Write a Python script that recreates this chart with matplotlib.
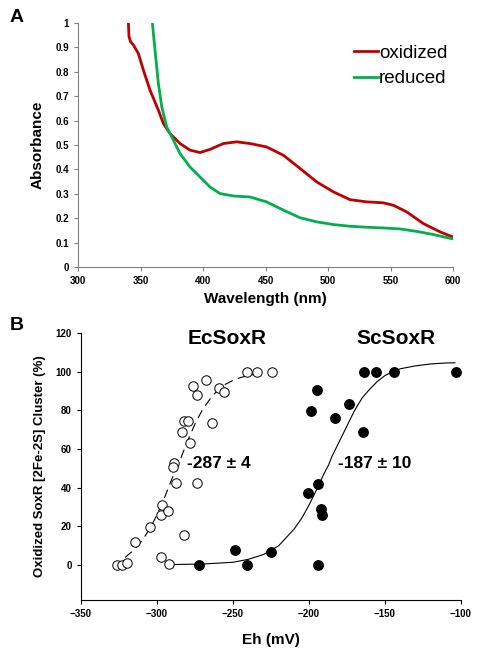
import matplotlib.pyplot as plt

plt.rcParams['font.family'] = ['Liberation Sans', 'DejaVu Sans']

# panel A: absorbance spectra
ox_wl = [340.3, 340.8, 342.1, 344.3, 348.3, 352.3, 357.6, 364.3, 368.3, 373.6, 381.6, 389.6,
         397.6, 405.6, 416.3, 426.9, 437.6, 450.9, 464.3, 477.6, 490.9, 504.3, 517.6, 530.9,
         544.3, 552.3, 562.9, 576.3, 589.6, 600.0]
ox_abs = [1.0, 0.944, 0.923, 0.91, 0.875, 0.807, 0.725, 0.643, 0.588, 0.547, 0.506, 0.479,
          0.469, 0.482, 0.506, 0.513, 0.506, 0.492, 0.458, 0.404, 0.349, 0.308, 0.276, 0.267,
          0.263, 0.253, 0.226, 0.178, 0.144, 0.123]
red_wl = [359.5, 361.6, 364.3, 367.0, 370.9, 376.3, 381.6, 389.6, 397.6, 405.6, 413.6, 424.3,
          437.6, 450.9, 464.3, 477.6, 490.9, 504.3, 517.6, 530.9, 544.3, 557.6, 570.9, 584.3, 600.0]
red_abs = [1.0, 0.889, 0.752, 0.657, 0.575, 0.52, 0.465, 0.41, 0.369, 0.328, 0.301, 0.291,
           0.287, 0.267, 0.233, 0.202, 0.185, 0.174, 0.167, 0.163, 0.16, 0.156, 0.146, 0.133, 0.115]

# panel B: redox titration
ec_eh = [-326.1, -323.3, -319.8, -314.5, -304.6, -297.6, -296.8, -292.6, -297.2, -292.2,
         -282.1, -288.9, -289.3, -287.6, -283.8, -282.5, -279.9, -278.6, -274.0, -276.2,
         -273.5, -267.6, -263.7, -258.9, -255.8, -241.1, -234.1, -224.2]
ec_ox = [0, 0, 1.2, 12, 19.8, 26, 31.3, 28, 4, 0.5, 15.7, 52.7, 51, 42.7, 68.7, 74.3, 74.3,
         63.2, 42.7, 92.6, 88, 95.9, 73.5, 91.7, 89.7, 100, 100, 100]
sc_eh = [-272.4, -249.0, -240.7, -225.3, -200.8, -198.8, -194.9, -194.2, -193.8, -192.2,
         -191.6, -182.6, -173.4, -164.6, -164.0, -155.9, -144.1, -103.5]
sc_ox = [0, 7.9, 0, 6.9, 37.2, 79.7, 90.5, 42.2, 0, 29.1, 26, 76.2, 83.3, 68.7, 100, 100, 100, 100]

# fitted curves
ec_fit_eh = [-321, -315, -310, -305, -300, -295, -290, -287, -285, -280, -275, -270, -265,
             -260, -255, -250, -245, -240, -235, -229]
ec_fit_ox = [4, 8, 12.5, 18.5, 26, 35, 45, 50, 54, 64, 73, 80.5, 86, 90.5, 93.5, 95.5, 97,
             98, 98.8, 99.2]
sc_fit_eh = [-292, -270, -250, -240, -230, -220, -210, -205, -200, -195, -190, -187, -185,
             -180, -175, -170, -165, -160, -155, -150, -145, -140, -130, -120, -110, -104]
sc_fit_ox = [0.3, 0.6, 1.5, 3, 5.5, 10, 18.5, 24, 31, 39, 47.5, 52, 56, 64, 72, 80, 86.5,
             91, 95, 98, 100, 101.5, 103, 104, 104.5, 104.6]

spine_col = '#808080'

fig = plt.figure(figsize=(4.82, 6.58), dpi=100)

# ---- panel A
ax1 = fig.add_axes([78 / 482, 1 - 267 / 658, 375 / 482, 244 / 658])
ax1.plot(ox_wl, ox_abs, color='#c00000', lw=2, label='oxidized')
ax1.plot(red_wl, red_abs, color='#00b050', lw=2, label='reduced')
ax1.set_xlim(300, 600)
ax1.set_ylim(0, 1)
ax1.set_xticks(range(300, 601, 50))
ax1.set_yticks([i / 10 for i in range(11)])
ax1.set_yticklabels(['0'] + [f'{i / 10:.1f}' for i in range(1, 10)] + ['1'])
for s in ['top', 'right']:
    ax1.spines[s].set_visible(False)
for s in ['left', 'bottom']:
    ax1.spines[s].set_color(spine_col)
ax1.tick_params(direction='out', length=3, color=spine_col, labelsize=7)
for lab in ax1.get_xticklabels() + ax1.get_yticklabels():
    lab.set_fontweight('bold')
ax1.set_xlabel('Wavelength (nm)', fontsize=11, fontweight='bold', labelpad=4)
ax1.set_ylabel('Absorbance', fontsize=11, fontweight='bold', labelpad=8)
ax1.legend(loc='upper right', bbox_to_anchor=(1.03, 0.98), frameon=False, fontsize=13.5,
           handlelength=1.3, handletextpad=0.05, labelspacing=0.45)
fig.text(17 / 482, 1 - 17 / 658, 'A', fontsize=14, fontweight='bold', va='center', ha='center')

# ---- panel B
ax2 = fig.add_axes([81 / 482, 1 - 600 / 658, 380 / 482, 267 / 658])
ax2.plot(ec_fit_eh, ec_fit_ox, color='black', lw=0.8, ls=(0, (8, 5)))
ax2.plot(sc_fit_eh, sc_fit_ox, color='black', lw=0.8)
ax2.plot(ec_eh, ec_ox, 'o', mfc='white', mec='black', mew=0.7, ms=6.8)
ax2.plot(sc_eh, sc_ox, 'o', mfc='black', mec='black', ms=6.8)
ax2.set_xlim(-350, -100)
ax2.set_ylim(-18, 120)
ax2.set_xticks(range(-350, -99, 50))
ax2.set_yticks(range(0, 121, 20))
for s in ['top', 'right']:
    ax2.spines[s].set_visible(False)
ax2.tick_params(direction='out', length=3, labelsize=7)
for lab in ax2.get_xticklabels() + ax2.get_yticklabels():
    lab.set_fontweight('bold')
ax2.set_xlabel('Eh (mV)', fontsize=11, fontweight='bold', labelpad=10)
ax2.set_ylabel('Oxidized SoxR [2Fe-2S] Cluster (%)', fontsize=9.5, fontweight='bold', labelpad=7)
ax2.text(-254, 117, 'EcSoxR', fontsize=15, fontweight='bold', ha='center', va='center')
ax2.text(-143, 117, 'ScSoxR', fontsize=15, fontweight='bold', ha='center', va='center')
ax2.text(-280, 52.5, '-287 ± 4', fontsize=12.5, fontweight='bold', ha='left', va='center')
ax2.text(-181, 52.5, '-187 ± 10', fontsize=12.5, fontweight='bold', ha='left', va='center')
fig.text(17 / 482, 1 - 326 / 658, 'B', fontsize=14, fontweight='bold', va='center', ha='center')

fig.savefig('out.png', dpi=100)
